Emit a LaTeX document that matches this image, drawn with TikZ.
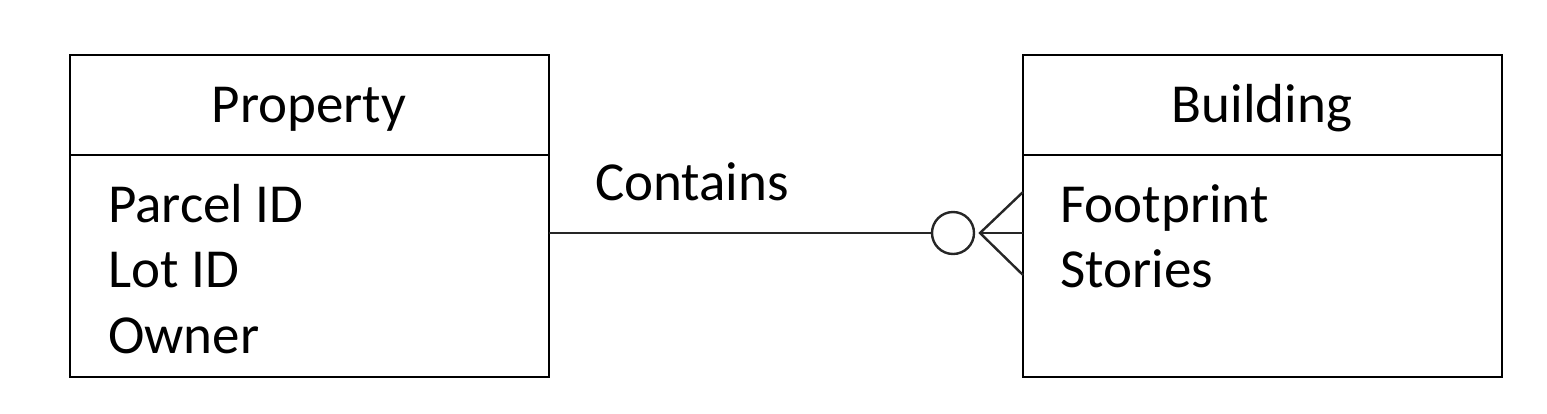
\documentclass[tikz,border=0pt]{standalone}
\usepackage{fontspec}
\setmainfont{Carlito}
\usetikzlibrary{positioning,calc}

\begin{document}
\begin{tikzpicture}
    [
    x=1pt, y=-1pt,
    entity/.style={
      draw, line width=2.8pt, minimum width=479pt,
      inner sep=0pt, outer sep=0pt
      },
    attr/.style={
      anchor=base west, inner sep=0pt,
      font=\fontsize{55}{66}\selectfont
      },
    title/.style={
      anchor=base, inner sep=0pt,
      font=\fontsize{55}{66}\selectfont
      },
    link/.style={
      line width=2.4pt, color=black!85
      }
    ]
    \useasboundingbox (0,0) rectangle (1547,413);

    % First, draw the Property entity
    \node[entity, minimum height=100pt, anchor=north west] (prop-head) at (70,55) {};
    \node[entity, minimum height=222pt, anchor=north west] (prop-body) at (prop-head.south west) {};
    \node[title] (prop-title) at (309,122) {Property};
    \node[attr] (parcel) at (108,222) {Parcel ID};
    \node[attr] (lot) at (108,287) {Lot ID};
    \node[attr] (owner) at (108,353) {Owner};

    % Then the Building entity
    \node[entity, minimum height=100pt, anchor=north west] (bldg-head) at (1023,55) {};
    \node[entity, minimum height=222pt, anchor=north west] (bldg-body) at (bldg-head.south west) {};
    \node[title] (bldg-title) at (1262,122) {Building};
    \node[attr] (footprint) at (1060,222) {Footprint};
    \node[attr] (stories) at (1060,287) {Stories};

    % Draw the relationship
    \node[draw, link, circle, minimum size=42pt, inner sep=0pt] (zero) at (953,233) {};
    \draw[link] (prop-body.east |- zero) -- (zero.west);
    \node[title, anchor=base west] (contains) at (595,200) {Contains};

    % Crow's foot
    \coordinate (apex) at (980,233);
    \coordinate (foot-top) at (bldg-body.west |- 0,192);
    \coordinate (foot-bot) at (bldg-body.west |- 0,275);
    \draw[link] (foot-top) -- (apex) -- (foot-bot);
    \draw[link] (apex) -- (bldg-body.west |- apex);
\end{tikzpicture}
\end{document}
